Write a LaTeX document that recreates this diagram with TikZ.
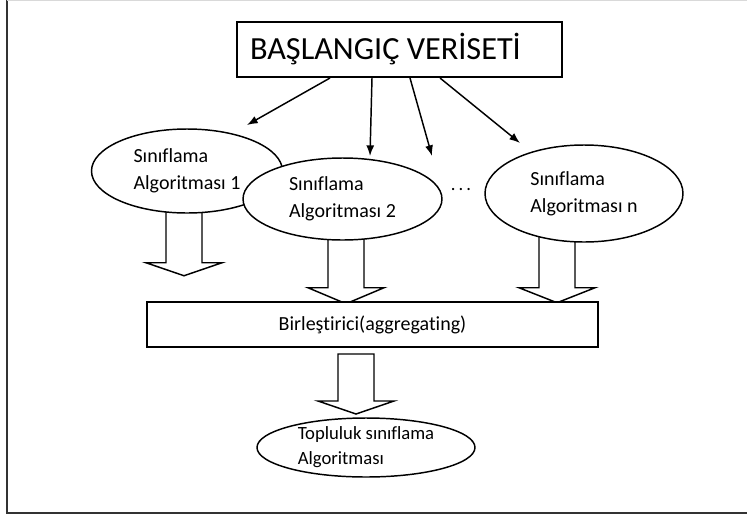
\documentclass[tikz,border=0pt]{standalone}
\usepackage{fontspec}
\setmainfont{Carlito}[Ligatures=NoCommon]
\usetikzlibrary{arrows.meta,shapes.geometric,backgrounds,calc}

\tikzset{every picture/.style={line width=0.75pt}}
\tikzset{
  algo/.style={draw, ellipse, fill=white, line width=1.1pt, inner sep=0pt, align=flush left, font=\fontsize{15}{20}\selectfont},
  box/.style={draw, rectangle, fill=white, line width=1.5pt, inner sep=0pt},
  link/.style={line width=1.1pt, -{Latex[length=8pt,width=6pt]}},
  fat/.style={draw, fill=white, line width=1.1pt, line join=miter},
}
% hollow block arrow: start point, shaft length, head height
\newcommand{\fatarrow}[3]{%
  \draw[fat] (#1) ++(-18,0) -- ++(0,#2) -- ++(-20,0) -- ++(38,#3) -- ++(38,-#3) -- ++(-20,0) -- ++(0,-#2) -- cycle;}

\begin{document}
\begin{tikzpicture}[x=0.75pt,y=0.75pt,yscale=-1,xscale=1]
\useasboundingbox (0,0) rectangle (747,519);

% frame
\draw[black!80, line width=1.9pt] (7,-5) -- (7,513) -- (760,513);
\draw[black!15] (7,0.5) -- (760,0.5);

% data set
\node[box, minimum height=41.25pt, text width=224.25pt, inner xsep=9.75pt, align=flush left, font=\fontsize{24.2}{28}\selectfont] (start) at (399.5,49.5) {BA\c{S}LANGI\c{C} VER\.{I}SET\.{I}};

% classifiers
\node[algo, minimum width=143.25pt, minimum height=63pt] (alg1) at (187,171) {Sınıflama\\Algoritması 1};
\node[algo, minimum width=149.25pt, minimum height=61.5pt] (alg2) at (342.5,199) {Sınıflama\\Algoritması 2};
\node[algo, minimum width=148.5pt, minimum height=72.75pt] (algn) at (584,193.5) {Sınıflama\\Algoritması n};
\node[font=\fontsize{14}{16}\selectfont] (dots) at (461,190) {.\,.\,.};

% aggregation and result
\node[box, minimum width=338.25pt, minimum height=33.75pt, font=\fontsize{15}{18}\selectfont] (merge) at (372.5,324.5) {Birle\c{s}tirici(aggregating)};
\node[algo, minimum width=163.5pt, minimum height=44.25pt, inner ysep=-1.5pt, font=\fontsize{14}{18.75}\selectfont] (ens) at (366,447.5) {Topluluk sınıflama\\Algoritması};

% thin arrows
\coordinate (tip1) at (247,125);
\coordinate (tip2) at (370,156);
\coordinate (tip3) at (432,156);
\coordinate (tip4) at (520,143);
\draw[link] (start.south) ++(-69.5,0) -- (tip1);
\draw[link] (start.south) ++(-27.5,0) -- (tip2);
\draw[link] (start.south) ++(10.5,0) -- (tip3);
\draw[link] (start.south) ++(40.5,0) -- (tip4);

% block arrows
\begin{scope}[on background layer]
\fatarrow{$(alg1.south)+(-3,-10)$}{59}{13}
\fatarrow{$(alg2.south)+(3.5,-10)$}{57}{16}
\fatarrow{$(algn.south)+(-27,-10)$}{55}{15}
\end{scope}
\fatarrow{$(merge.south)+(-16.5,6)$}{47}{13}

\end{tikzpicture}
\end{document}
